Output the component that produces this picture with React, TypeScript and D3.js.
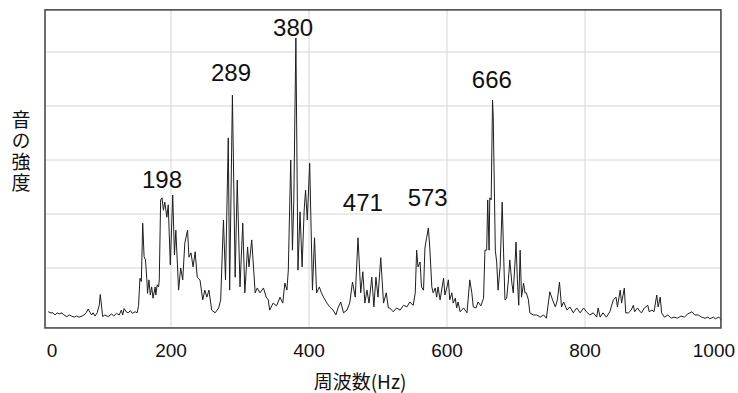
import React from 'react';
import * as d3 from 'd3';

// spectrum: frequency (Hz) and intensity (gridline units)
const freqHz = [
  22, 26, 29, 32, 35, 38, 42, 45, 49, 53,
  56, 60, 63, 67, 71, 74, 77, 80, 83, 85,
  87, 90, 93, 96, 97.5, 99.5, 101, 104, 109, 114,
  117, 121, 125, 128, 130, 132, 135, 138, 141, 144,
  148, 151, 153, 155, 157, 159, 161, 163, 165, 166,
  168, 170, 172, 174, 177, 178, 180, 182, 183, 185,
  187, 189, 191, 194, 196, 199, 202.5, 205, 207, 211,
  214, 217, 220, 224, 226, 229, 232, 235, 238, 242,
  246, 249, 252, 255, 259, 264, 269, 272, 276, 279,
  283, 285, 289, 293, 296, 300, 304, 307, 311, 313,
  317, 322, 325, 329, 334, 338, 341, 343, 348, 353,
  358, 362, 365, 368, 370, 373.5, 376, 378, 381, 384,
  387, 390, 393, 395, 397.5, 401, 405, 408, 411, 415,
  418, 421, 426, 430, 435, 439, 442, 446, 450, 455,
  459, 463, 467, 471, 475, 478, 481, 484, 487, 491,
  494, 497, 500, 504, 508, 512, 515, 517, 522, 527,
  532, 537, 542, 546, 551, 554, 556, 558, 561, 563,
  566, 568, 570.5, 573, 575, 578, 580, 583, 585, 587,
  590, 595, 597, 600, 602, 604, 607, 609, 612, 614,
  616, 619, 624, 629, 633, 636, 638, 642, 645, 649,
  653, 655, 657.5, 659, 661, 662, 664, 666, 667, 670,
  672, 674, 677, 680, 682, 684, 686.5, 689, 691, 694,
  696, 699, 700, 702, 704, 706, 708, 711, 713, 715,
  718, 720, 725, 730, 735, 740, 744, 749, 753, 757,
  760, 763, 766, 769, 774, 778, 783, 788, 793, 798,
  802, 807, 812, 817, 819, 822, 826, 831, 836, 841,
  845, 847, 851, 853, 857, 859, 863, 867, 870, 872,
  876, 880, 882, 886, 891, 893, 897, 900, 904, 906,
  909, 911, 915, 920, 925, 929, 934, 939, 944, 949,
  952, 955, 959, 964, 969, 974, 978, 981, 986, 989,
  994, 998,
];
const intensity = [
  0.19, 0.17, 0.17, 0.13, 0.17, 0.15, 0.17, 0.13, 0.10, 0.13,
  0.11, 0.09, 0.11, 0.09, 0.11, 0.13, 0.17, 0.24, 0.17, 0.13,
  0.17, 0.11, 0.17, 0.31, 0.51, 0.28, 0.10, 0.13, 0.10, 0.15,
  0.11, 0.16, 0.13, 0.22, 0.13, 0.25, 0.19, 0.17, 0.21, 0.16,
  0.19, 0.17, 0.31, 0.81, 0.75, 1.83, 1.21, 1.15, 0.78, 0.53,
  0.78, 0.50, 0.65, 0.44, 0.65, 0.50, 0.69, 0.65, 0.78, 2.26,
  2.30, 2.07, 2.22, 1.94, 2.17, 1.06, 2.35, 1.24, 1.70, 0.59,
  1.00, 0.78, 1.46, 1.70, 1.20, 1.28, 1.02, 1.30, 0.83, 0.78,
  0.41, 0.59, 0.46, 0.59, 0.22, 0.17, 0.26, 0.41, 1.89, 0.78,
  3.41, 0.59, 4.20, 0.83, 2.63, 0.65, 1.83, 0.54, 1.39, 1.02,
  1.52, 0.54, 0.63, 0.54, 0.63, 0.46, 0.41, 0.22, 0.35, 0.30,
  0.46, 0.35, 0.72, 0.59, 0.96, 3.00, 1.33, 2.26, 5.26, 0.96,
  2.04, 1.02, 2.07, 2.44, 1.89, 2.94, 0.59, 1.56, 0.54, 0.65,
  0.54, 0.46, 0.35, 0.28, 0.22, 0.13, 0.26, 0.37, 0.17, 0.22,
  0.35, 0.74, 0.46, 1.56, 0.54, 0.93, 0.35, 0.59, 0.35, 0.83,
  0.28, 0.83, 0.46, 1.19, 0.35, 0.54, 0.26, 0.26, 0.19, 0.26,
  0.22, 0.31, 0.28, 0.37, 0.31, 0.54, 1.33, 1.02, 1.11, 0.65,
  0.59, 1.37, 1.56, 1.74, 1.39, 0.65, 0.54, 0.63, 0.46, 0.65,
  0.41, 0.81, 0.50, 0.65, 0.78, 0.41, 0.54, 0.35, 0.44, 0.26,
  0.37, 0.19, 0.26, 0.17, 0.78, 0.54, 0.28, 0.26, 0.37, 0.30,
  0.44, 1.33, 1.33, 2.26, 1.33, 2.30, 2.26, 4.11, 3.80, 1.33,
  1.11, 0.59, 1.02, 2.22, 1.28, 0.41, 0.44, 0.78, 1.15, 0.72,
  0.54, 1.20, 1.48, 0.78, 0.31, 1.33, 0.46, 0.72, 0.54, 0.54,
  0.41, 0.17, 0.13, 0.13, 0.09, 0.13, 0.07, 0.56, 0.41, 0.28,
  0.41, 0.74, 0.28, 0.37, 0.22, 0.28, 0.17, 0.26, 0.17, 0.26,
  0.19, 0.13, 0.17, 0.09, 0.26, 0.09, 0.17, 0.09, 0.19, 0.41,
  0.46, 0.28, 0.59, 0.35, 0.63, 0.17, 0.17, 0.22, 0.31, 0.19,
  0.26, 0.19, 0.17, 0.26, 0.31, 0.19, 0.22, 0.19, 0.50, 0.28,
  0.46, 0.17, 0.09, 0.13, 0.07, 0.09, 0.07, 0.11, 0.09, 0.15,
  0.17, 0.19, 0.13, 0.13, 0.09, 0.07, 0.09, 0.06, 0.09, 0.06,
  0.09, 0.04,
];

const xTicks = [0, 200, 400, 600, 800, 1000];
const yGrid = [1, 2, 3, 4, 5];

const peakNames = ['198', '289', '380', '471', '573', '666'];
const peakLabelHz = [187, 287, 377, 478, 572, 665];
const peakLabelLevel = [2.48, 4.46, 5.3, 2.06, 2.15, 4.33];

const xTitle = '周波数(Hz)';
const yTitle = '音の強度';

export default function App() {
  const width = 738;
  const height = 393;

  const x = d3.scaleLinear().domain([0, 1000]).range([33, 723]);
  const y = d3.scaleLinear().domain([0, 5]).range([322, 52]);

  const left = x(17.4);
  const right = x(997);
  const top = y(5.78);
  const bottom = y(-0.11);

  const line = d3
    .line<number>()
    .x((d, i) => x(freqHz[i]))
    .y(d => y(d));

  const latin = "'Liberation Sans', Arial, sans-serif";
  const cjk = "'Noto Sans CJK JP', sans-serif";

  return (
    <div style={{ position: 'absolute', left: 0, top: 0 }}>
      <svg width={width} height={height} style={{ display: 'block', background: '#fff' }}>
        {yGrid.map(v => (
          <line key={'h' + v} x1={left} x2={right} y1={y(v)} y2={y(v)} stroke='#d6d6d6' strokeWidth={1} />
        ))}
        {xTicks.filter(t => x(t) > left + 2 && x(t) < right - 2).map(t => (
          <line key={'v' + t} x1={x(t)} x2={x(t)} y1={top} y2={bottom} stroke='#d6d6d6' strokeWidth={1} />
        ))}

        <path d={line(intensity) || ''} fill='none' stroke='#1e1e1e' strokeWidth={1} strokeLinejoin='round' />

        <rect x={left} y={top} width={right - left} height={bottom - top} fill='none' stroke='#4a4a4a' strokeWidth={1.6} />

        {peakNames.map((name, i) => (
          <text key={name} x={x(peakLabelHz[i])} y={y(peakLabelLevel[i])} textAnchor='middle'
            fontFamily={latin} fontSize={24} fill='#111'>{name}</text>
        ))}

        {xTicks.map(t => (
          <text key={'t' + t} x={Math.min(Math.max(x(t), left + 7), right - 7)} y={357} textAnchor='middle'
            fontFamily={latin} fontSize={19} fill='#111'>{t}</text>
        ))}

        <text x={360} y={389} textAnchor='middle' fontFamily={cjk} fontSize={19} fill='#111'>{xTitle}</text>

        <text x={21} y={110} fontFamily={cjk} fontSize={19} fill='#111' letterSpacing={2}
          style={{ writingMode: 'vertical-rl' }}>{yTitle}</text>
      </svg>
    </div>
  );
}
